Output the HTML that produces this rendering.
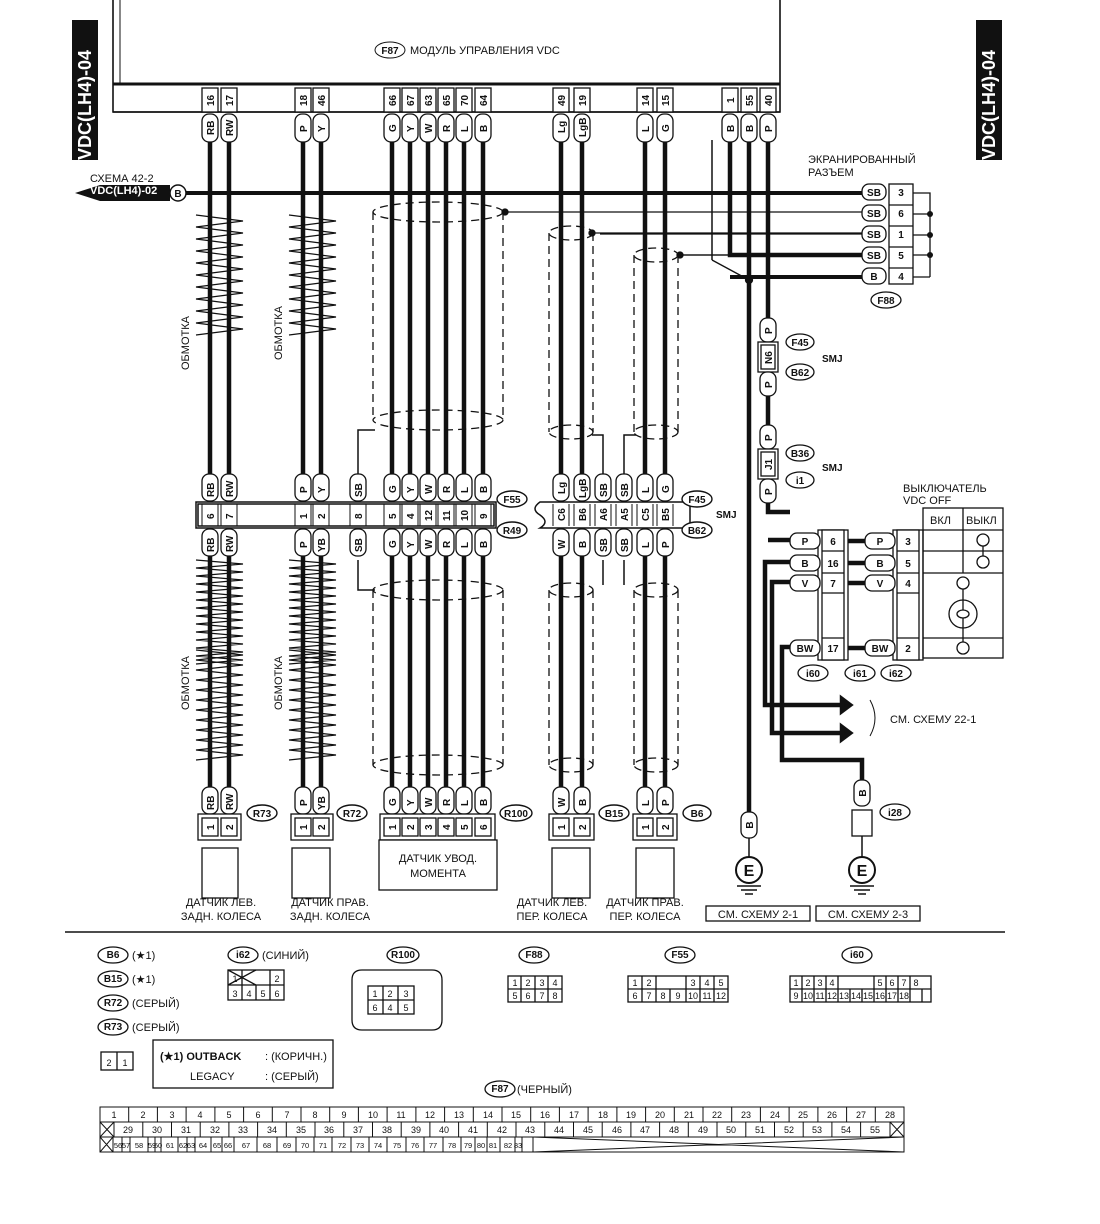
<!DOCTYPE html>
<html><head><meta charset="utf-8"><style>
body{margin:0;background:#fff}
svg{display:block;font-family:"Liberation Sans",sans-serif}
text{fill:#111}
.t{font-size:10px;font-weight:bold}
.s{font-size:11px}
</style></head><body>
<svg width="1100" height="1224" viewBox="0 0 1100 1224" xmlns="http://www.w3.org/2000/svg">
<rect x="72" y="20" width="26" height="140" fill="#111"/>
<text transform="translate(91,160) rotate(-90)" font-size="18" font-weight="bold" style="fill:#fff">VDC(LH4)-04</text>
<rect x="976" y="20" width="26" height="140" fill="#111"/>
<text transform="translate(995,160) rotate(-90)" font-size="18" font-weight="bold" style="fill:#fff">VDC(LH4)-04</text>
<path d="M113,0 V112 H780 V0" fill="none" stroke="#111" stroke-width="1.6"/>
<line x1="113" y1="84" x2="780" y2="84" stroke="#111" stroke-width="3"/>
<line x1="113" y1="112" x2="780" y2="112" stroke="#111" stroke-width="1.5"/>
<line x1="120" y1="0" x2="120" y2="84" stroke="#111" stroke-width="1"/>
<ellipse cx="390" cy="50" rx="15" ry="8" fill="#fff" stroke="#111"/>
<text x="390" y="54" class="t" font-size="8" text-anchor="middle">F87</text>
<text x="410" y="54" class="s">МОДУЛЬ УПРАВЛЕНИЯ VDC</text>
<path d="M75,193 L100,185 H170 V201 H100 Z" fill="#111"/>
<text x="90" y="182" class="s">СХЕМА 42-2</text>
<text x="90" y="194" class="s" font-weight="bold" style="fill:#fff">VDC(LH4)-02</text>
<circle cx="178" cy="193" r="8" fill="#fff" stroke="#111" stroke-width="1.5"/>
<text x="178" y="197" class="t" text-anchor="middle">B</text>
<line x1="186" y1="193" x2="862" y2="193" stroke="#111" stroke-width="4"/>
<g stroke="#111" stroke-width="4.5" fill="none">
<path d="M210,140 V500 M229,140 V500 M303,140 V500 M321,140 V500 M392,140 V500 M410,140 V500 M428,140 V500 M446,140 V500 M464,140 V500 M483,140 V500 M561,140 V500 M582,140 V500 M645,140 V500 M665,140 V500"/>
<path d="M210,555 V790 M229,555 V790 M303,555 V790 M321,555 V790 M392,555 V790 M410,555 V790 M428,555 V790 M446,555 V790 M464,555 V790 M483,555 V790 M561,555 V790 M582,555 V790 M645,555 V790 M665,555 V790"/>
<path d="M730,140 V255 H862 M749,140 V815 M768,140 V320 M768,395 V425 M768,495 V512 H790 M768,540 H790"/>
<path d="M790,540 H800 M790,562 H765 V705 H850 M790,582 H772 V733 H850 M790,647 H782 V760 H862 V780"/>
<path d="M358,475 V430 H375 M603,475 V435 H592 M624,475 V435 H636" stroke-width="1.5"/>
<path d="M358,560 V590 H375 M603,560 V585 M624,560 V585" stroke-width="1.5"/>
<path d="M850,705 l-8,-6 v12 Z M850,733 l-8,-6 v12 Z" fill="#111"/>
<path d="M712,140 V260" stroke-width="1.5"/>
</g>
<g stroke="#111" stroke-width="1.3" fill="none">
<line x1="505" y1="212" x2="862" y2="212"/><circle cx="505" cy="212" r="3" fill="#111"/>
<line x1="592" y1="233" x2="862" y2="233"/><circle cx="592" cy="233" r="3" fill="#111"/>
<line x1="680" y1="255" x2="730" y2="255"/><circle cx="680" cy="255" r="3" fill="#111"/>
<circle cx="749" cy="280" r="3.5" fill="#111"/>
<line x1="749" y1="280" x2="712" y2="260"/>
<g stroke-dasharray="8,5">
<ellipse cx="438" cy="212" rx="65" ry="10"/><ellipse cx="438" cy="420" rx="65" ry="10"/>
<line x1="373" y1="212" x2="373" y2="420"/><line x1="503" y1="212" x2="503" y2="420"/>
<ellipse cx="438" cy="590" rx="65" ry="10"/><ellipse cx="438" cy="765" rx="65" ry="10"/>
<line x1="373" y1="590" x2="373" y2="765"/><line x1="503" y1="590" x2="503" y2="765"/>
<ellipse cx="571" cy="233" rx="22" ry="7"/><ellipse cx="571" cy="432" rx="22" ry="7"/>
<line x1="549" y1="233" x2="549" y2="432"/><line x1="593" y1="233" x2="593" y2="432"/>
<ellipse cx="571" cy="590" rx="22" ry="7"/><ellipse cx="571" cy="765" rx="22" ry="7"/>
<line x1="549" y1="590" x2="549" y2="765"/><line x1="593" y1="590" x2="593" y2="765"/>
<ellipse cx="656" cy="255" rx="22" ry="7"/><ellipse cx="656" cy="432" rx="22" ry="7"/>
<line x1="634" y1="255" x2="634" y2="432"/><line x1="678" y1="255" x2="678" y2="432"/>
<ellipse cx="656" cy="590" rx="22" ry="7"/><ellipse cx="656" cy="765" rx="22" ry="7"/>
<line x1="634" y1="590" x2="634" y2="765"/><line x1="678" y1="590" x2="678" y2="765"/>
</g>
</g>
<g stroke="#111" stroke-width="1.2" fill="none">
<path d="M196,215 l47,6 l-47,6 l47,6 l-47,6 l47,6 l-47,6 l47,6 l-47,6 l47,6 l-47,6 l47,6 l-47,6 l47,6 l-47,6 l47,6 l-47,6 l47,6 l-47,6 l47,6 l-47,6"/>
<path d="M289,215 l47,6 l-47,6 l47,6 l-47,6 l47,6 l-47,6 l47,6 l-47,6 l47,6 l-47,6 l47,6 l-47,6 l47,6 l-47,6 l47,6 l-47,6 l47,6 l-47,6 l47,6 l-47,6"/>
<path d="M196,560 l47,4 l-47,4 l47,4 l-47,4 l47,4 l-47,4 l47,4 l-47,4 l47,4 l-47,4 l47,4 l-47,4 l47,4 l-47,4 l47,4 l-47,4 l47,4 l-47,4 l47,4 l-47,4 l47,4 l-47,4 l47,4 l-47,4 l47,4 l-47,4"/>
<path d="M289,560 l47,4 l-47,4 l47,4 l-47,4 l47,4 l-47,4 l47,4 l-47,4 l47,4 l-47,4 l47,4 l-47,4 l47,4 l-47,4 l47,4 l-47,4 l47,4 l-47,4 l47,4 l-47,4 l47,4 l-47,4 l47,4 l-47,4 l47,4 l-47,4"/>
<path d="M196,650 l47,5 l-47,5 l47,5 l-47,5 l47,5 l-47,5 l47,5 l-47,5 l47,5 l-47,5 l47,5 l-47,5 l47,5 l-47,5 l47,5 l-47,5 l47,5 l-47,5 l47,5 l-47,5 l47,5 l-47,5"/>
<path d="M289,650 l47,5 l-47,5 l47,5 l-47,5 l47,5 l-47,5 l47,5 l-47,5 l47,5 l-47,5 l47,5 l-47,5 l47,5 l-47,5 l47,5 l-47,5 l47,5 l-47,5 l47,5 l-47,5 l47,5 l-47,5"/>
</g>
<text transform="translate(189,370) rotate(-90)" class="s">ОБМОТКА</text>
<text transform="translate(282,360) rotate(-90)" class="s">ОБМОТКА</text>
<text transform="translate(189,710) rotate(-90)" class="s">ОБМОТКА</text>
<text transform="translate(282,710) rotate(-90)" class="s">ОБМОТКА</text>
<g class="t">
<g stroke="#111" stroke-width="1.3" fill="#fff">
<rect x="202" y="88" width="16" height="24"/><rect x="221" y="88" width="16" height="24"/>
<rect x="295" y="88" width="16" height="24"/><rect x="313" y="88" width="16" height="24"/>
<rect x="384" y="88" width="16" height="24"/><rect x="402" y="88" width="16" height="24"/><rect x="420" y="88" width="16" height="24"/><rect x="438" y="88" width="16" height="24"/><rect x="456" y="88" width="16" height="24"/><rect x="475" y="88" width="16" height="24"/>
<rect x="553" y="88" width="16" height="24"/><rect x="574" y="88" width="16" height="24"/>
<rect x="637" y="88" width="16" height="24"/><rect x="657" y="88" width="16" height="24"/>
<rect x="722" y="88" width="16" height="24"/><rect x="741" y="88" width="16" height="24"/><rect x="760" y="88" width="16" height="24"/>
<rect x="202" y="114" width="16" height="28" rx="7"/><rect x="221" y="114" width="16" height="28" rx="7"/>
<rect x="295" y="114" width="16" height="28" rx="7"/><rect x="313" y="114" width="16" height="28" rx="7"/>
<rect x="384" y="114" width="16" height="28" rx="7"/><rect x="402" y="114" width="16" height="28" rx="7"/><rect x="420" y="114" width="16" height="28" rx="7"/><rect x="438" y="114" width="16" height="28" rx="7"/><rect x="456" y="114" width="16" height="28" rx="7"/><rect x="475" y="114" width="16" height="28" rx="7"/>
<rect x="553" y="114" width="16" height="28" rx="7"/><rect x="574" y="114" width="16" height="28" rx="7"/>
<rect x="637" y="114" width="16" height="28" rx="7"/><rect x="657" y="114" width="16" height="28" rx="7"/>
<rect x="722" y="114" width="16" height="28" rx="7"/><rect x="741" y="114" width="16" height="28" rx="7"/><rect x="760" y="114" width="16" height="28" rx="7"/>
</g>
<text transform="translate(214,106) rotate(-90)">16</text><text transform="translate(233,106) rotate(-90)">17</text>
<text transform="translate(307,106) rotate(-90)">18</text><text transform="translate(325,106) rotate(-90)">46</text>
<text transform="translate(396,106) rotate(-90)">66</text><text transform="translate(414,106) rotate(-90)">67</text><text transform="translate(432,106) rotate(-90)">63</text><text transform="translate(450,106) rotate(-90)">65</text><text transform="translate(468,106) rotate(-90)">70</text><text transform="translate(487,106) rotate(-90)">64</text>
<text transform="translate(565,106) rotate(-90)">49</text><text transform="translate(586,106) rotate(-90)">19</text>
<text transform="translate(649,106) rotate(-90)">14</text><text transform="translate(669,106) rotate(-90)">15</text>
<text transform="translate(734,103) rotate(-90)">1</text><text transform="translate(753,106) rotate(-90)">55</text><text transform="translate(772,106) rotate(-90)">40</text>
<text transform="translate(214,135) rotate(-90)">RB</text><text transform="translate(233,136) rotate(-90)">RW</text>
<text transform="translate(307,132) rotate(-90)">P</text><text transform="translate(325,132) rotate(-90)">Y</text>
<text transform="translate(396,132) rotate(-90)">G</text><text transform="translate(414,132) rotate(-90)">Y</text><text transform="translate(432,133) rotate(-90)">W</text><text transform="translate(450,132) rotate(-90)">R</text><text transform="translate(468,132) rotate(-90)">L</text><text transform="translate(487,132) rotate(-90)">B</text>
<text transform="translate(565,133) rotate(-90)">Lg</text><text transform="translate(586,137) rotate(-90)">LgB</text>
<text transform="translate(649,132) rotate(-90)">L</text><text transform="translate(669,132) rotate(-90)">G</text>
<text transform="translate(734,132) rotate(-90)">B</text><text transform="translate(753,132) rotate(-90)">B</text><text transform="translate(772,132) rotate(-90)">P</text>
</g>
<g stroke="#111" stroke-width="1.5" fill="none">
<rect x="196" y="502" width="300" height="26"/><rect x="198" y="504" width="296" height="22"/>
<path d="M540,502 H690 V528 H540 q10,-6 0,-13 q-10,-6 0,-13 Z"/>
</g>
<g class="t" stroke="#111" stroke-width="1.3">
<g fill="#fff">
<rect x="202" y="474" width="16" height="27" rx="7"/><rect x="221" y="474" width="16" height="27" rx="7"/><rect x="295" y="474" width="16" height="27" rx="7"/><rect x="313" y="474" width="16" height="27" rx="7"/><rect x="350" y="474" width="16" height="27" rx="7"/><rect x="384" y="474" width="16" height="27" rx="7"/><rect x="402" y="474" width="16" height="27" rx="7"/><rect x="420" y="474" width="16" height="27" rx="7"/><rect x="438" y="474" width="16" height="27" rx="7"/><rect x="456" y="474" width="16" height="27" rx="7"/><rect x="475" y="474" width="16" height="27" rx="7"/>
<rect x="553" y="474" width="16" height="27" rx="7"/><rect x="574" y="474" width="16" height="27" rx="7"/><rect x="595" y="474" width="16" height="27" rx="7"/><rect x="616" y="474" width="16" height="27" rx="7"/><rect x="637" y="474" width="16" height="27" rx="7"/><rect x="657" y="474" width="16" height="27" rx="7"/>
<rect x="202" y="529" width="16" height="27" rx="7"/><rect x="221" y="529" width="16" height="27" rx="7"/><rect x="295" y="529" width="16" height="27" rx="7"/><rect x="313" y="529" width="16" height="27" rx="7"/><rect x="350" y="529" width="16" height="27" rx="7"/><rect x="384" y="529" width="16" height="27" rx="7"/><rect x="402" y="529" width="16" height="27" rx="7"/><rect x="420" y="529" width="16" height="27" rx="7"/><rect x="438" y="529" width="16" height="27" rx="7"/><rect x="456" y="529" width="16" height="27" rx="7"/><rect x="475" y="529" width="16" height="27" rx="7"/>
<rect x="553" y="529" width="16" height="27" rx="7"/><rect x="574" y="529" width="16" height="27" rx="7"/><rect x="595" y="529" width="16" height="27" rx="7"/><rect x="616" y="529" width="16" height="27" rx="7"/><rect x="637" y="529" width="16" height="27" rx="7"/><rect x="657" y="529" width="16" height="27" rx="7"/>
</g>
<g fill="none" stroke-width="1"><path d="M202,504 V526 M218,504 V526 M221,504 V526 M237,504 V526 M295,504 V526 M311,504 V526 M313,504 V526 M329,504 V526 M350,504 V526 M366,504 V526 M384,504 V526 M400,504 V526 M402,504 V526 M418,504 V526 M420,504 V526 M436,504 V526 M438,504 V526 M454,504 V526 M456,504 V526 M472,504 V526 M475,504 V526 M491,504 V526 M553,504 V526 M569,504 V526 M574,504 V526 M590,504 V526 M595,504 V526 M611,504 V526 M616,504 V526 M632,504 V526 M637,504 V526 M653,504 V526 M657,504 V526 M673,504 V526"/></g>
<g stroke="none">
<text transform="translate(214,497) rotate(-90)">RB</text><text transform="translate(233,497) rotate(-90)">RW</text><text transform="translate(307,493) rotate(-90)">P</text><text transform="translate(325,493) rotate(-90)">Y</text><text transform="translate(362,497) rotate(-90)">SB</text><text transform="translate(396,493) rotate(-90)">G</text><text transform="translate(414,493) rotate(-90)">Y</text><text transform="translate(432,494) rotate(-90)">W</text><text transform="translate(450,493) rotate(-90)">R</text><text transform="translate(468,493) rotate(-90)">L</text><text transform="translate(487,493) rotate(-90)">B</text>
<text transform="translate(565,494) rotate(-90)">Lg</text><text transform="translate(586,498) rotate(-90)">LgB</text><text transform="translate(607,497) rotate(-90)">SB</text><text transform="translate(628,497) rotate(-90)">SB</text><text transform="translate(649,493) rotate(-90)">L</text><text transform="translate(669,493) rotate(-90)">G</text>
<text transform="translate(214,519) rotate(-90)">6</text><text transform="translate(233,519) rotate(-90)">7</text><text transform="translate(307,519) rotate(-90)">1</text><text transform="translate(325,519) rotate(-90)">2</text><text transform="translate(362,519) rotate(-90)">8</text><text transform="translate(396,519) rotate(-90)">5</text><text transform="translate(414,519) rotate(-90)">4</text><text transform="translate(432,521) rotate(-90)">12</text><text transform="translate(450,521) rotate(-90)">11</text><text transform="translate(468,521) rotate(-90)">10</text><text transform="translate(487,519) rotate(-90)">9</text>
<text transform="translate(565,521) rotate(-90)">C6</text><text transform="translate(586,521) rotate(-90)">B6</text><text transform="translate(607,521) rotate(-90)">A6</text><text transform="translate(628,521) rotate(-90)">A5</text><text transform="translate(649,521) rotate(-90)">C5</text><text transform="translate(669,521) rotate(-90)">B5</text>
<text transform="translate(214,552) rotate(-90)">RB</text><text transform="translate(233,552) rotate(-90)">RW</text><text transform="translate(307,548) rotate(-90)">P</text><text transform="translate(325,552) rotate(-90)">YB</text><text transform="translate(362,552) rotate(-90)">SB</text><text transform="translate(396,548) rotate(-90)">G</text><text transform="translate(414,548) rotate(-90)">Y</text><text transform="translate(432,549) rotate(-90)">W</text><text transform="translate(450,548) rotate(-90)">R</text><text transform="translate(468,548) rotate(-90)">L</text><text transform="translate(487,548) rotate(-90)">B</text>
<text transform="translate(565,549) rotate(-90)">W</text><text transform="translate(586,548) rotate(-90)">B</text><text transform="translate(607,552) rotate(-90)">SB</text><text transform="translate(628,552) rotate(-90)">SB</text><text transform="translate(649,548) rotate(-90)">L</text><text transform="translate(669,548) rotate(-90)">P</text>
</g></g>
<g stroke="#111" stroke-width="1.4" fill="#fff">
<ellipse cx="512" cy="499" rx="15" ry="8"/><ellipse cx="512" cy="530" rx="15" ry="8"/>
<ellipse cx="697" cy="499" rx="15" ry="8"/><ellipse cx="697" cy="530" rx="15" ry="8"/>
</g>
<g class="t" font-size="9" text-anchor="middle">
<text x="512" y="503">F55</text><text x="512" y="534">R49</text><text x="697" y="503">F45</text><text x="697" y="534">B62</text>
</g>
<text x="716" y="518" class="t" font-size="9">SMJ</text>
<g stroke="#111" stroke-width="1.3" fill="#fff">
<rect x="202" y="787" width="16" height="27" rx="7"/><rect x="221" y="787" width="16" height="27" rx="7"/><rect x="295" y="787" width="16" height="27" rx="7"/><rect x="313" y="787" width="16" height="27" rx="7"/><rect x="384" y="787" width="16" height="27" rx="7"/><rect x="402" y="787" width="16" height="27" rx="7"/><rect x="420" y="787" width="16" height="27" rx="7"/><rect x="438" y="787" width="16" height="27" rx="7"/><rect x="456" y="787" width="16" height="27" rx="7"/><rect x="475" y="787" width="16" height="27" rx="7"/><rect x="553" y="787" width="16" height="27" rx="7"/><rect x="574" y="787" width="16" height="27" rx="7"/><rect x="637" y="787" width="16" height="27" rx="7"/><rect x="657" y="787" width="16" height="27" rx="7"/>
<rect x="198" y="814" width="43" height="26"/><rect x="291" y="814" width="42" height="26"/><rect x="380" y="814" width="115" height="26"/><rect x="549" y="814" width="45" height="26"/><rect x="633" y="814" width="44" height="26"/>
<rect x="202" y="818" width="16" height="18"/><rect x="221" y="818" width="16" height="18"/><rect x="295" y="818" width="16" height="18"/><rect x="313" y="818" width="16" height="18"/><rect x="384" y="818" width="16" height="18"/><rect x="402" y="818" width="16" height="18"/><rect x="420" y="818" width="16" height="18"/><rect x="438" y="818" width="16" height="18"/><rect x="456" y="818" width="16" height="18"/><rect x="475" y="818" width="16" height="18"/><rect x="553" y="818" width="16" height="18"/><rect x="574" y="818" width="16" height="18"/><rect x="637" y="818" width="16" height="18"/><rect x="657" y="818" width="16" height="18"/>
<rect x="202" y="848" width="36" height="50"/><rect x="292" y="848" width="38" height="50"/><rect x="379" y="840" width="118" height="50"/><rect x="552" y="848" width="38" height="50"/><rect x="636" y="848" width="38" height="50"/>
</g>
<g class="t">
<text transform="translate(214,810) rotate(-90)">RB</text><text transform="translate(233,810) rotate(-90)">RW</text><text transform="translate(307,806) rotate(-90)">P</text><text transform="translate(325,810) rotate(-90)">YB</text><text transform="translate(396,806) rotate(-90)">G</text><text transform="translate(414,806) rotate(-90)">Y</text><text transform="translate(432,807) rotate(-90)">W</text><text transform="translate(450,806) rotate(-90)">R</text><text transform="translate(468,806) rotate(-90)">L</text><text transform="translate(487,806) rotate(-90)">B</text><text transform="translate(565,807) rotate(-90)">W</text><text transform="translate(586,806) rotate(-90)">B</text><text transform="translate(649,806) rotate(-90)">L</text><text transform="translate(669,806) rotate(-90)">P</text>
<text transform="translate(214,830) rotate(-90)">1</text><text transform="translate(233,830) rotate(-90)">2</text><text transform="translate(307,830) rotate(-90)">1</text><text transform="translate(325,830) rotate(-90)">2</text><text transform="translate(396,830) rotate(-90)">1</text><text transform="translate(414,830) rotate(-90)">2</text><text transform="translate(432,830) rotate(-90)">3</text><text transform="translate(450,830) rotate(-90)">4</text><text transform="translate(468,830) rotate(-90)">5</text><text transform="translate(487,830) rotate(-90)">6</text><text transform="translate(565,830) rotate(-90)">1</text><text transform="translate(586,830) rotate(-90)">2</text><text transform="translate(649,830) rotate(-90)">1</text><text transform="translate(669,830) rotate(-90)">2</text>
</g>
<g stroke="#111" stroke-width="1.4" fill="#fff">
<ellipse cx="262" cy="813" rx="15" ry="8"/><ellipse cx="352" cy="813" rx="15" ry="8"/><ellipse cx="516" cy="813" rx="16" ry="8"/><ellipse cx="614" cy="813" rx="15" ry="8"/><ellipse cx="697" cy="813" rx="14" ry="8"/>
</g>
<g class="t" font-size="9" text-anchor="middle">
<text x="262" y="817">R73</text><text x="352" y="817">R72</text><text x="516" y="817">R100</text><text x="614" y="817">B15</text><text x="697" y="817">B6</text>
</g>
<g class="s" text-anchor="middle">
<text x="438" y="862">ДАТЧИК УВОД.</text><text x="438" y="877">МОМЕНТА</text>
<text x="221" y="906">ДАТЧИК ЛЕВ.</text><text x="221" y="920">ЗАДН. КОЛЕСА</text>
<text x="330" y="906">ДАТЧИК ПРАВ.</text><text x="330" y="920">ЗАДН. КОЛЕСА</text>
<text x="552" y="906">ДАТЧИК ЛЕВ.</text><text x="552" y="920">ПЕР. КОЛЕСА</text>
<text x="645" y="906">ДАТЧИК ПРАВ.</text><text x="645" y="920">ПЕР. КОЛЕСА</text>
</g>
<text x="808" y="163" class="s">ЭКРАНИРОВАННЫЙ</text>
<text x="808" y="176" class="s">РАЗЪЕМ</text>
<g stroke="#111" stroke-width="1.3" fill="#fff">
<rect x="862" y="184" width="24" height="16" rx="7"/><rect x="862" y="205" width="24" height="16" rx="7"/><rect x="862" y="226" width="24" height="16" rx="7"/><rect x="862" y="247" width="24" height="16" rx="7"/><rect x="862" y="268" width="24" height="16" rx="7"/>
<rect x="889" y="184" width="24" height="100"/>
<path d="M889,205 H913 M889,226 H913 M889,247 H913 M889,268 H913" fill="none"/>
<path d="M913,193 H930 V255 H913 M913,214 H930 M913,235 H930" fill="none"/>
<line x1="913" y1="277" x2="930" y2="277"/><line x1="930" y1="255" x2="930" y2="277"/>
<ellipse cx="886" cy="300" rx="15" ry="8"/>
</g>
<line x1="600" y1="234" x2="862" y2="234" stroke="#111" stroke-width="1.3"/>
<line x1="680" y1="255" x2="862" y2="255" stroke="#111" stroke-width="1.3"/>
<line x1="730" y1="277" x2="862" y2="277" stroke="#111" stroke-width="4"/>
<g fill="#111"><circle cx="930" cy="214" r="3"/><circle cx="930" cy="235" r="3"/><circle cx="930" cy="255" r="3"/></g>
<g class="t" font-size="9" text-anchor="middle">
<text x="874" y="196">SB</text><text x="874" y="217">SB</text><text x="874" y="238">SB</text><text x="874" y="259">SB</text><text x="874" y="280">B</text>
<text x="901" y="196">3</text><text x="901" y="217">6</text><text x="901" y="238">1</text><text x="901" y="259">5</text><text x="901" y="280">4</text>
<text x="886" y="304">F88</text>
</g>
<g stroke="#111" stroke-width="1.3" fill="#fff">
<rect x="760" y="318" width="16" height="24" rx="7"/><rect x="758" y="342" width="20" height="30"/><rect x="761" y="345" width="14" height="24"/><rect x="760" y="372" width="16" height="24" rx="7"/>
<rect x="760" y="425" width="16" height="24" rx="7"/><rect x="758" y="449" width="20" height="30"/><rect x="761" y="452" width="14" height="24"/><rect x="760" y="479" width="16" height="24" rx="7"/>
<ellipse cx="800" cy="342" rx="14" ry="8"/><ellipse cx="800" cy="372" rx="14" ry="8"/><ellipse cx="800" cy="453" rx="14" ry="8"/><ellipse cx="800" cy="480" rx="14" ry="8"/>
</g>
<g class="t" font-size="9">
<text transform="translate(772,334) rotate(-90)">P</text><text transform="translate(772,364) rotate(-90)">N6</text><text transform="translate(772,388) rotate(-90)">P</text>
<text transform="translate(772,441) rotate(-90)">P</text><text transform="translate(772,470) rotate(-90)">J1</text><text transform="translate(772,495) rotate(-90)">P</text>
<text x="800" y="346" text-anchor="middle">F45</text><text x="800" y="376" text-anchor="middle">B62</text><text x="800" y="457" text-anchor="middle">B36</text><text x="800" y="484" text-anchor="middle">i1</text>
<text x="822" y="362">SMJ</text><text x="822" y="471">SMJ</text>
</g>
<g stroke="#111" stroke-width="1.3" fill="#fff">
<rect x="818" y="530" width="30" height="130"/><rect x="822" y="530" width="22" height="130"/>
<rect x="893" y="530" width="30" height="130"/><rect x="897" y="530" width="22" height="130"/>
<rect x="790" y="533" width="30" height="16" rx="7"/><rect x="790" y="555" width="30" height="16" rx="7"/><rect x="790" y="575" width="30" height="16" rx="7"/><rect x="790" y="640" width="30" height="16" rx="7"/>
<rect x="865" y="533" width="30" height="16" rx="7"/><rect x="865" y="555" width="30" height="16" rx="7"/><rect x="865" y="575" width="30" height="16" rx="7"/><rect x="865" y="640" width="30" height="16" rx="7"/>
<path d="M822,551 H844 M822,573 H844 M822,593 H844 M822,638 H844 M897,551 H919 M897,573 H919 M897,593 H919 M897,638 H919" fill="none"/>
<rect x="923" y="508" width="80" height="150" fill="none"/>
<path d="M923,530 H1003 M963,508 V573 M923,551 H1003 M923,573 H1003 M923,638 H1003" fill="none"/>
<circle cx="983" cy="540" r="6"/><circle cx="983" cy="562" r="6"/><line x1="983" y1="546" x2="983" y2="556"/>
<circle cx="963" cy="583" r="6"/><circle cx="963" cy="614" r="14"/><circle cx="963" cy="648" r="6"/>
<line x1="963" y1="589" x2="963" y2="642"/>
<ellipse cx="963" cy="614" rx="6" ry="4"/>
<ellipse cx="813" cy="673" rx="15" ry="8"/><ellipse cx="860" cy="673" rx="15" ry="8"/><ellipse cx="896" cy="673" rx="15" ry="8"/>
</g>
<g stroke="#111" stroke-width="4.5" fill="none"><path d="M848,541 H865 M848,563 H865 M848,583 H865 M848,648 H865"/></g>
<g class="t" font-size="9" text-anchor="middle">
<text x="805" y="545">P</text><text x="833" y="545">6</text><text x="805" y="567">B</text><text x="833" y="567">16</text><text x="805" y="587">V</text><text x="833" y="587">7</text><text x="805" y="652">BW</text><text x="833" y="652">17</text>
<text x="880" y="545">P</text><text x="908" y="545">3</text><text x="880" y="567">B</text><text x="908" y="567">5</text><text x="880" y="587">V</text><text x="908" y="587">4</text><text x="880" y="652">BW</text><text x="908" y="652">2</text>
<text x="813" y="677">i60</text><text x="860" y="677">i61</text><text x="896" y="677">i62</text>
</g>
<text x="903" y="492" class="s">ВЫКЛЮЧАТЕЛЬ</text><text x="903" y="504" class="s">VDC OFF</text>
<text x="930" y="524" class="s">ВКЛ</text><text x="966" y="524" class="s">ВЫКЛ</text>
<path d="M870,700 q10,18 0,36" fill="none" stroke="#111"/>
<text x="890" y="723" class="s">СМ. СХЕМУ 22-1</text>
<g stroke="#111" stroke-width="1.3" fill="#fff">
<rect x="741" y="812" width="16" height="26" rx="7"/>
<rect x="854" y="780" width="16" height="26" rx="7"/><rect x="852" y="810" width="20" height="26"/>
<ellipse cx="895" cy="812" rx="15" ry="8"/>
<circle cx="749" cy="870" r="13" stroke-width="2"/><circle cx="862" cy="870" r="13" stroke-width="2"/>
<rect x="706" y="906" width="104" height="15"/><rect x="816" y="906" width="104" height="15"/>
</g>
<path d="M749,838 V857 M862,836 V857 M737,886 H761 M741,890 H757 M745,894 H753 M850,886 H874 M854,890 H870 M858,894 H866" stroke="#111" stroke-width="1.5"/>
<g class="t" font-size="9" text-anchor="middle">
<text transform="translate(753,825) rotate(-90)">B</text><text transform="translate(866,793) rotate(-90)">B</text>
<text x="895" y="816">i28</text>
<text x="749" y="876" font-size="16">E</text><text x="862" y="876" font-size="16">E</text>
</g>
<text x="758" y="918" class="s" text-anchor="middle">СМ. СХЕМУ 2-1</text>
<text x="868" y="918" class="s" text-anchor="middle">СМ. СХЕМУ 2-3</text>
<line x1="65" y1="932" x2="1005" y2="932" stroke="#111" stroke-width="1.5"/>
<g stroke="#111" stroke-width="1.3" fill="#fff">
<ellipse cx="113" cy="955" rx="15" ry="8"/><ellipse cx="113" cy="979" rx="15" ry="8"/><ellipse cx="113" cy="1003" rx="15" ry="8"/><ellipse cx="113" cy="1027" rx="15" ry="8"/>
<ellipse cx="243" cy="955" rx="15" ry="8"/><ellipse cx="403" cy="955" rx="16" ry="8"/><ellipse cx="534" cy="955" rx="15" ry="8"/><ellipse cx="680" cy="955" rx="15" ry="8"/><ellipse cx="857" cy="955" rx="15" ry="8"/>
<ellipse cx="500" cy="1089" rx="15" ry="8"/>
<rect x="101" y="1052" width="32" height="18"/><line x1="117" y1="1052" x2="117" y2="1070"/>
<rect x="153" y="1040" width="180" height="48"/>
<rect x="228" y="970" width="56" height="30"/><path d="M228,985 H284 M242,970 V1000 M256,985 V1000 M270,970 V1000 M228,970 L256,985 M256,970 L228,985" fill="none"/>
<path d="M352,980 q0,-10 10,-10 h70 q10,0 10,10 v40 q0,10 -10,10 h-70 q-10,0 -10,-10 Z" fill="none"/>
<rect x="368" y="986" width="46" height="28"/><path d="M368,1000 H414 M383,986 V1014 M398,986 V1014" fill="none"/>
<rect x="508" y="976" width="54" height="26"/><path d="M508,989 H562 M521,976 V1002 M535,976 V1002 M548,976 V1002" fill="none"/>
<rect x="628" y="976" width="100" height="26"/><path d="M628,989 H728 M642,976 V1002 M656,976 V1002 M670,989 V1002 M686,976 V1002 M700,976 V1002 M714,976 V1002" fill="none"/>
<rect x="790" y="976" width="141" height="26"/><path d="M790,989 H931 M802,976 V1002 M814,976 V1002 M826,976 V1002 M838,976 V1002 M850,989 V1002 M862,989 V1002 M874,976 V1002 M886,976 V1002 M898,976 V1002 M910,976 V1002 M922,989 V1002" fill="none"/>
</g>
<g class="t" font-size="8" text-anchor="middle">
<text x="113" y="958">B6</text><text x="113" y="982">B15</text><text x="113" y="1006">R72</text><text x="113" y="1030">R73</text>
<text x="243" y="958">i62</text><text x="403" y="958">R100</text><text x="534" y="958">F88</text><text x="680" y="958">F55</text><text x="857" y="958">i60</text><text x="500" y="1092">F87</text>
</g>
<g class="s">
<text x="132" y="959">(★1)</text><text x="132" y="983">(★1)</text><text x="132" y="1007">(СЕРЫЙ)</text><text x="132" y="1031">(СЕРЫЙ)</text>
<text x="262" y="959">(СИНИЙ)</text><text x="517" y="1093">(ЧЕРНЫЙ)</text>
<text x="160" y="1060" font-weight="bold">(★1) OUTBACK</text><text x="265" y="1060">: (КОРИЧН.)</text>
<text x="190" y="1080">LEGACY</text><text x="265" y="1080">: (СЕРЫЙ)</text>
</g>
<g font-size="9" text-anchor="middle">
<text x="109" y="1066">2</text><text x="125" y="1066">1</text>
<text x="235" y="982">1</text><text x="277" y="982">2</text><text x="235" y="997">3</text><text x="249" y="997">4</text><text x="263" y="997">5</text><text x="277" y="997">6</text>
<text x="375" y="997">1</text><text x="390" y="997">2</text><text x="406" y="997">3</text><text x="390" y="1011">4</text><text x="406" y="1011">5</text><text x="375" y="1011">6</text>
<text x="515" y="986">1</text><text x="528" y="986">2</text><text x="542" y="986">3</text><text x="555" y="986">4</text><text x="515" y="999">5</text><text x="528" y="999">6</text><text x="542" y="999">7</text><text x="555" y="999">8</text>
<text x="635" y="986">1</text><text x="649" y="986">2</text><text x="693" y="986">3</text><text x="707" y="986">4</text><text x="721" y="986">5</text>
<text x="635" y="999">6</text><text x="649" y="999">7</text><text x="663" y="999">8</text><text x="678" y="999">9</text><text x="693" y="999">10</text><text x="707" y="999">11</text><text x="721" y="999">12</text>
<text x="796" y="986">1</text><text x="808" y="986">2</text><text x="820" y="986">3</text><text x="832" y="986">4</text><text x="880" y="986">5</text><text x="892" y="986">6</text><text x="904" y="986">7</text><text x="916" y="986">8</text>
<text x="796" y="999">9</text><text x="808" y="999">10</text><text x="820" y="999">11</text><text x="832" y="999">12</text><text x="844" y="999">13</text><text x="856" y="999">14</text><text x="868" y="999">15</text><text x="880" y="999">16</text><text x="892" y="999">17</text><text x="904" y="999">18</text>
</g>
<g stroke="#111" stroke-width="1" fill="none">
<rect x="100" y="1107" width="804" height="45"/>
<path d="M100,1122 H904 M100,1137 H904"/>
<path d="M128.7,1107V1122 M157.4,1107V1122 M186.1,1107V1122 M214.9,1107V1122 M243.6,1107V1122 M272.3,1107V1122 M301,1107V1122 M329.7,1107V1122 M358.4,1107V1122 M387.1,1107V1122 M415.9,1107V1122 M444.6,1107V1122 M473.3,1107V1122 M502,1107V1122 M530.7,1107V1122 M559.4,1107V1122 M588.1,1107V1122 M616.9,1107V1122 M645.6,1107V1122 M674.3,1107V1122 M703,1107V1122 M731.7,1107V1122 M760.4,1107V1122 M789.1,1107V1122 M817.9,1107V1122 M846.6,1107V1122 M875.3,1107V1122"/>
<path d="M114,1122V1137 M142.8,1122V1137 M171.5,1122V1137 M200.2,1122V1137 M228.9,1122V1137 M257.6,1122V1137 M286.3,1122V1137 M315,1122V1137 M343.8,1122V1137 M372.5,1122V1137 M401.2,1122V1137 M429.9,1122V1137 M458.6,1122V1137 M487.3,1122V1137 M516,1122V1137 M544.8,1122V1137 M573.5,1122V1137 M602.2,1122V1137 M630.9,1122V1137 M659.6,1122V1137 M688.3,1122V1137 M717,1122V1137 M745.8,1122V1137 M774.5,1122V1137 M803.2,1122V1137 M831.9,1122V1137 M860.6,1122V1137 M890,1122V1137"/>
<path d="M100,1122 L114,1137 M114,1122 L100,1137 M890,1122 L904,1137 M904,1122 L890,1137 M100,1137 L113,1152 M113,1137 L100,1152 M533,1137 L904,1152 M904,1137 L533,1152"/>
<path d="M113,1137V1152 M122,1137V1152 M130,1137V1152 M148,1137V1152 M155,1137V1152 M161,1137V1152 M178,1137V1152 M187,1137V1152 M195,1137V1152 M211,1137V1152 M222,1137V1152 M234,1137V1152 M257,1137V1152 M277,1137V1152 M296,1137V1152 M314,1137V1152 M332,1137V1152 M351,1137V1152 M369,1137V1152 M387,1137V1152 M406,1137V1152 M424,1137V1152 M443,1137V1152 M461,1137V1152 M475,1137V1152 M487,1137V1152 M500,1137V1152 M515,1137V1152 M522,1137V1152 M533,1137V1152"/>
</g>
<g font-size="9" text-anchor="middle">
<text x="114" y="1118">1</text><text x="143" y="1118">2</text><text x="172" y="1118">3</text><text x="200" y="1118">4</text><text x="229" y="1118">5</text><text x="258" y="1118">6</text><text x="287" y="1118">7</text><text x="315" y="1118">8</text><text x="344" y="1118">9</text><text x="373" y="1118">10</text><text x="401" y="1118">11</text><text x="430" y="1118">12</text><text x="459" y="1118">13</text><text x="488" y="1118">14</text><text x="516" y="1118">15</text><text x="545" y="1118">16</text><text x="574" y="1118">17</text><text x="603" y="1118">18</text><text x="631" y="1118">19</text><text x="660" y="1118">20</text><text x="689" y="1118">21</text><text x="717" y="1118">22</text><text x="746" y="1118">23</text><text x="775" y="1118">24</text><text x="803" y="1118">25</text><text x="832" y="1118">26</text><text x="861" y="1118">27</text><text x="890" y="1118">28</text>
<text x="128" y="1133">29</text><text x="157" y="1133">30</text><text x="186" y="1133">31</text><text x="215" y="1133">32</text><text x="243" y="1133">33</text><text x="272" y="1133">34</text><text x="301" y="1133">35</text><text x="329" y="1133">36</text><text x="358" y="1133">37</text><text x="387" y="1133">38</text><text x="416" y="1133">39</text><text x="444" y="1133">40</text><text x="473" y="1133">41</text><text x="502" y="1133">42</text><text x="530" y="1133">43</text><text x="559" y="1133">44</text><text x="588" y="1133">45</text><text x="617" y="1133">46</text><text x="645" y="1133">47</text><text x="674" y="1133">48</text><text x="703" y="1133">49</text><text x="731" y="1133">50</text><text x="760" y="1133">51</text><text x="789" y="1133">52</text><text x="817" y="1133">53</text><text x="846" y="1133">54</text><text x="875" y="1133">55</text>
<g font-size="7.5"><text x="118" y="1148">56</text><text x="126" y="1148">57</text><text x="139" y="1148">58</text><text x="152" y="1148">59</text><text x="158" y="1148">60</text><text x="170" y="1148">61</text><text x="183" y="1148">62</text><text x="191" y="1148">63</text><text x="203" y="1148">64</text><text x="217" y="1148">65</text><text x="228" y="1148">66</text><text x="246" y="1148">67</text><text x="267" y="1148">68</text><text x="287" y="1148">69</text><text x="305" y="1148">70</text><text x="323" y="1148">71</text><text x="342" y="1148">72</text><text x="360" y="1148">73</text><text x="378" y="1148">74</text><text x="397" y="1148">75</text><text x="415" y="1148">76</text><text x="433" y="1148">77</text><text x="452" y="1148">78</text><text x="468" y="1148">79</text><text x="481" y="1148">80</text><text x="493" y="1148">81</text><text x="508" y="1148">82</text><text x="518" y="1148">83</text><text x="528" y="1148"></text></g>
</g>
</svg>
</body></html>
